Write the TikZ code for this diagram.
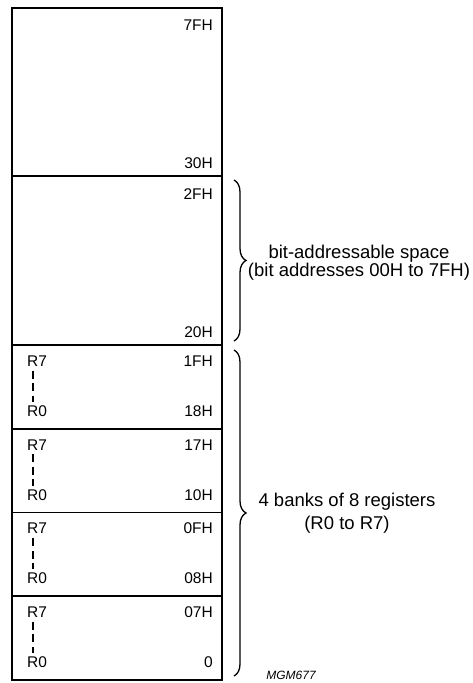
\documentclass[tikz,border=0pt]{standalone}
\usepackage{fontspec}
\setmainfont{Liberation Sans}
\usetikzlibrary{decorations.pathreplacing}

\tikzset{
  region/.style={draw,line width=1.8pt,minimum width=210pt,inner sep=0pt,outer sep=0pt},
  addr/.style={anchor=east,inner sep=1pt},
  reg/.style={anchor=west,inner sep=1pt},
  regdash/.style={line width=1.6pt,dash pattern=on 8pt off 4.5pt},
  brc/.style={decorate,decoration={brace,amplitude=12pt},line width=1.3pt},
  note/.style={align=center,font=\fontsize{18.5}{17}\selectfont}
}

\begin{document}
\begin{tikzpicture}[x=1pt,y=-1pt,font=\fontsize{15.5}{17}\selectfont]
  \useasboundingbox (0,0) rectangle (473,683);

  % general purpose RAM
  \node[region,minimum height=168pt,anchor=north] (ram) at (117,8) {};
  \node[addr] (a7f) at (214,25) {7FH};
  \node[addr] (a30) at (214,163) {30H};

  % bit-addressable area
  \node[region,minimum height=169pt,anchor=north] (bitarea) at (117,176) {};
  \node[addr] (a2f) at (214,194) {2FH};
  \node[addr] (a20) at (214,332) {20H};

  % register banks
  \foreach \hi/\lo [count=\i from 0] in {1FH/18H,17H/10H,0FH/08H,07H/0} {
    \pgfmathsetmacro\ybank{345+83.75*\i}
    \node[region,minimum height=83.75pt,anchor=north] (bank\i) at (117,\ybank) {};
    \node[addr] (hi\i) at (214,\ybank+16) {\hi};
    \node[addr] (lo\i) at (214,\ybank+66) {\lo};
    \node[reg] (rs\i) at (26,\ybank+16) {R7};
    \node[reg] (rz\i) at (26,\ybank+66) {R0};
    \draw[regdash,shorten <=3pt,shorten >=2.5pt] ([xshift=-4pt]rs\i.south) -- ([xshift=-4pt]rz\i.north);
  }

  % braces
  \draw[brc] ([xshift=12pt,yshift=-4pt]bitarea.north east) -- ([xshift=12pt,yshift=4pt]bitarea.south east);
  \draw[brc] ([xshift=12pt,yshift=-5pt]bank0.north east) -- ([xshift=12pt,yshift=4pt]bank3.south east);

  \node[note] (bitnote) at (359,263) {bit-addressable space\\(bit addresses 00H to 7FH)};
  \node[note,font=\fontsize{18.5}{23}\selectfont] (banknote) at (347,513) {4 banks of 8 registers\\(R0 to R7)};

  \node[font=\fontsize{12}{12}\selectfont\itshape] (mgm) at (291,675) {MGM677};
\end{tikzpicture}
\end{document}
